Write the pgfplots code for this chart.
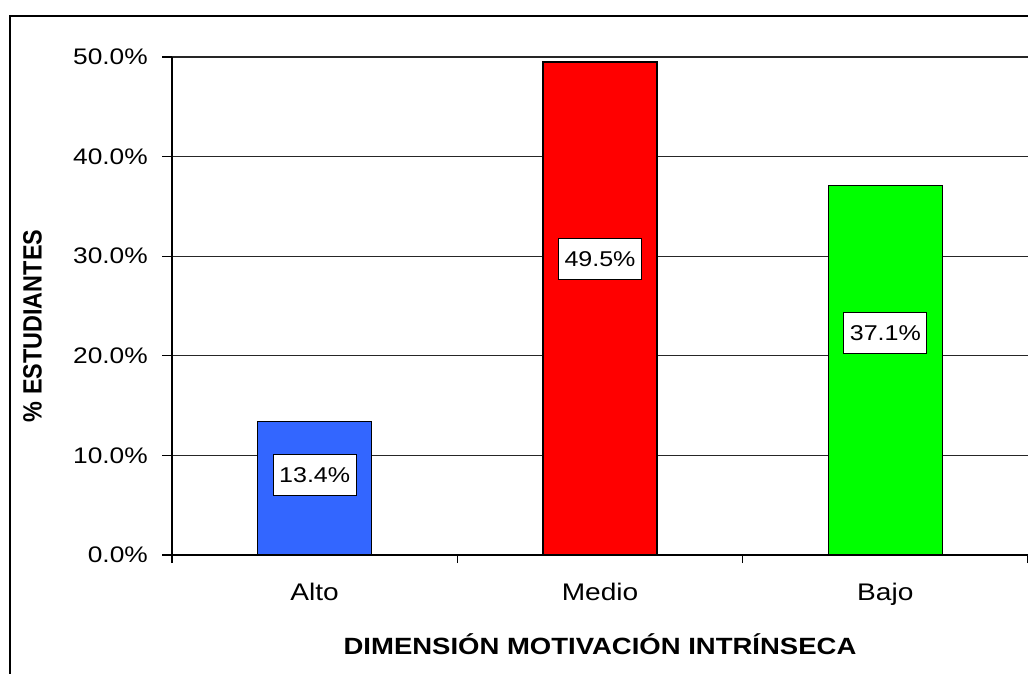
\documentclass[border=0pt]{standalone}
\usepackage{fontspec}
\setmainfont{Liberation Sans}[FakeStretch=1.17]
\newfontfamily\ylfont{Liberation Sans}
\usepackage{graphicx}
\usepackage{pgfplots}
\pgfplotsset{compat=1.18}

\definecolor{barblue}{RGB}{51,102,255}
\definecolor{barred}{RGB}{255,0,0}
\definecolor{bargreen}{RGB}{0,255,0}

\begin{document}
\begin{tikzpicture}
\useasboundingbox (0,0) rectangle (1028pt,673pt);
\clip (0,0) rectangle (1028pt,673pt);
% outer chart frame (cut at right and bottom)
\draw[line width=1.5pt] (10pt,-20pt) -- (10pt,657pt) -- (1060pt,657pt);
\begin{axis}[
  at={(172pt,118pt)}, anchor=south west,
  scale only axis, width=856pt, height=498pt,
  xmin=-0.5, xmax=2.5, ymin=0, ymax=50,
  axis x line*=bottom, axis y line*=left,
  axis line style={black, line width=1.3pt},
  ytick={0,10,20,30,40,50},
  yticklabel={\pgfmathprintnumber[fixed,fixed zerofill,precision=1]{\tick}\%},
  /pgf/number format/assume math mode=true,
  ymajorgrids, grid style={black!85, line width=1.2pt},
  xtick={0,1,2}, xticklabels={Alto,Medio,Bajo},
  minor xtick={-0.5,0.5,1.5,2.5},
  major x tick style={draw=none},
  minor x tick style={black, line width=1.2pt},
  tick align=outside, major tick length=10pt, minor tick length=8pt,
  tick style={black, line width=1.2pt},
  ticklabel style={font=\fontsize{22.5}{26}\selectfont},
  xticklabel style={font=\fontsize{24}{28}\selectfont, anchor=base, yshift=-35pt},
  yticklabel style={anchor=east, inner sep=0pt, xshift=-14pt},
  xlabel={\bfseries DIMENSIÓN MOTIVACIÓN INTRÍNSECA},
  xlabel style={font=\fontsize{23.5}{27}\selectfont, at={(axis description cs:0.5,0)}, anchor=base, yshift=-99pt},
  ylabel={\scalebox{1}[1.13]{\ylfont\bfseries\% ESTUDIANTES}},
  ylabel style={font=\fontsize{23.4}{27}\selectfont, at={(axis description cs:-0.163,0.46)}, anchor=center, rotate=0},
]
\addplot[ybar, bar width=114pt, bar shift=0pt, fill=barblue, draw=black, line width=1.3pt] coordinates {(0,13.4)};
\addplot[ybar, bar width=114pt, bar shift=0pt, fill=barred, draw=black, line width=1.3pt] coordinates {(1,49.5)};
\addplot[ybar, bar width=114pt, bar shift=0pt, fill=bargreen, draw=black, line width=1.3pt] coordinates {(2,37.1)};
\addplot[draw=none, mark=none, nodes near coords, point meta=explicit symbolic,
  every node near coord/.append style={anchor=center, draw=black, fill=white, line width=1.2pt,
    font=\fontsize{21.4}{25}\selectfont, inner xsep=6pt, inner ysep=0pt, minimum height=41pt}]
  coordinates {(0,8.04) [13.4\%] (1,29.7) [49.5\%] (2,22.26) [37.1\%]};
\end{axis}
\end{tikzpicture}
\end{document}
